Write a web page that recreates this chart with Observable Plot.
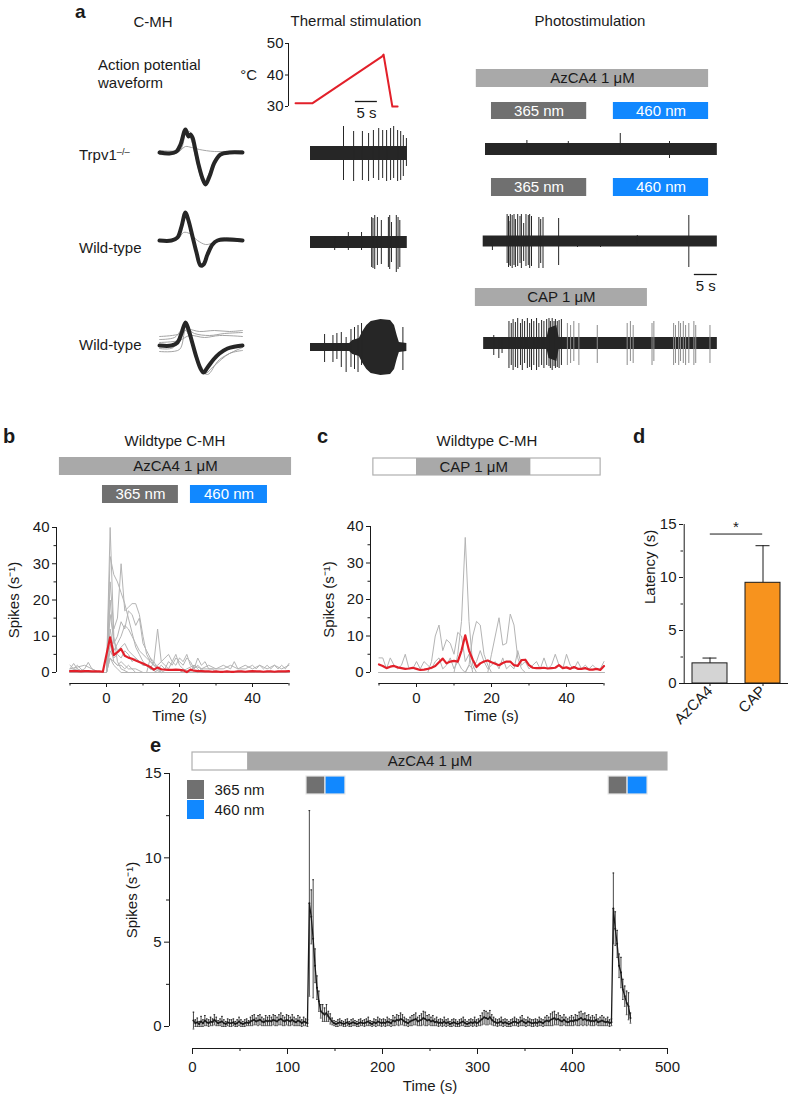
<!DOCTYPE html>
<html><head><meta charset="utf-8">
<script src="https://cdn.jsdelivr.net/npm/d3@7"></script>
<script src="https://cdn.jsdelivr.net/npm/@observablehq/plot@0.6"></script>
<style>
html,body{margin:0;padding:0;overflow:hidden;background:#fff;}
#root{position:relative;width:788px;height:1101px;font-family:'Liberation Sans',Arial,Helvetica,sans-serif;color:#1a1a1a;}
.lbl{position:absolute;white-space:nowrap;line-height:1;}
.lbl sup{font-size:0.62em;position:relative;top:-0.6em;vertical-align:baseline;}
</style></head><body><div id="root"></div>
<script>
// ================= DATA =================
// Panel a: temperature ramp (s, °C)
const tempTime = [-3.4, 0.4, 16.3, 16.6, 18.6, 19.8];
const tempC    = [31, 31, 45.9, 46.5, 30, 30];

// Panel a: action-potential waveforms [sample, amplitude]
const wfTrpv1 = [[0,0],[10,-1],[17,1],[21,8],[26,23],[29,16],[31,18],[33,15],[36,2],[39,-12],[43,-26],[46,-32],[50,-24],[55,-10],[61,-2],[70,0],[83,0]];
const wfTrpv1Gray = [
  [[0,2],[20,2],[26,6],[32,5],[40,3],[55,1],[83,2]],
  [[0,-2],[18,0],[24,18],[30,21],[35,6],[41,-18],[47,-29],[54,-10],[64,-1],[83,-1]],
  [[0,1],[20,1],[27,22],[32,12],[36,-4],[44,-30],[50,-20],[58,-4],[83,1]]
];
const wfWt1 = [[0,0],[12,0],[18,3],[22,14],[26,28],[29,20],[33,4],[37,-12],[41,-25],[44,-24],[48,-14],[53,-4],[58,0],[66,1],[83,0]];
const wfWt1Gray = [
  [[0,0],[18,1],[24,8],[30,7],[38,0],[46,-4],[52,-3],[60,0],[83,0]],
  [[0,1],[16,1],[22,16],[26,26],[30,18],[38,-16],[43,-27],[50,-10],[60,2],[83,1]]
];
const wfWt2 = [[0,0],[12,0],[18,3],[22,12],[26,23],[29,16],[33,2],[37,-12],[41,-23],[44,-27],[48,-22],[54,-14],[60,-8],[68,-3],[76,-1],[83,0]];
const wfWt2Gray = [
  [[0,6],[15,8],[25,18],[35,12],[50,10],[65,12],[83,13]],
  [[0,3],[20,5],[30,10],[45,8],[60,10],[83,9]],
  [[0,9],[18,11],[28,16],[40,14],[55,15],[70,14],[83,15]],
  [[0,-6],[20,-4],[26,15],[35,-5],[45,-28],[55,-20],[70,-8],[83,-5]],
  [[0,-3],[14,-2],[24,20],[31,6],[40,-22],[48,-29],[60,-14],[83,-2]]
];

// Panel a: extracellular traces. envelope: [t, noise amplitude]; spikes: [t, up, down]
const thermEnv1 = [[0,7],[22,7]];
const thermSpikes1 = [[7.5,27,27],[9.8,22,28],[11.8,22,27],[13.2,20,28],[14.3,23,25],[15.5,25,27],[16.4,23,25],[17.3,23,28],[18.2,25,27],[18.9,27,25],[19.8,23,28],[20.5,22,27],[21.1,18,23],[21.8,15,13]];
const thermEnv2 = [[0,6],[22,6]];
const thermSpikes2 = [[5.5,6,8],[8.6,10,8],[11.6,10,8],[13.9,25,25],[14.2,24,26],[14.6,27,27],[15.2,25,23],[16.1,22,22],[17.7,25,25],[18.0,27,27],[18.4,20,20],[19.5,27,30],[19.9,25,27],[20.3,22,25]];
const thermEnv3 = [[0,4],[8.9,4],[9.6,7],[11.1,9],[11.9,16],[12.8,22],[13.8,26],[16,28],[18.2,27],[19.1,22],[19.7,12],[20.2,5],[21.9,4]];
const thermSpikes3 = [[3.2,13,15],[5.1,12,15],[6.0,14,12],[7.0,15,20],[8.1,10,25],[9.2,18,20],[10.0,20,22],[10.8,22,25],[11.6,24,18],[21.0,20,23]];

const photoEnv1 = [[0,6],[50.4,6]];
const photoSpikes1 = [[9,9,3],[18,8,4],[29.3,16,3],[40,8,9]];
const photoEnv2 = [[-0.5,5.5],[50.4,5.5]];
const photoSpikes2 = [[1.5,4,9],[4.7,27,22],[5.0,25,26],[5.1,20,24],[5.4,27,25],[5.8,26,27],[6.2,27,24],[6.5,22,26],[7.0,27,25],[7.5,25,22],[7.8,27,27],[8.3,18,20],[8.8,27,25],[9.3,26,24],[9.6,27,27],[10.0,25,25],[11.6,24,27],[12.0,22,22],[12.5,24,27],[15.9,23,24],[20,4,6],[25,3,6],[33,6,3],[44.2,26,26]];
const photoEnv3 = [[-0.4,6],[13.4,6],[13.8,15],[15.5,18],[16,6],[50.4,6]];
const photoSpikes3 = [[1.8,8,12],[2.9,5,15],[3.6,6,10],[5.1,22,25],[5.6,20,22],[6.0,24,27],[6.5,21,24],[7.0,25,25],[7.6,20,22],[8.0,24,27],[8.5,22,20],[9.1,25,25],[9.6,20,24],[10.0,24,27],[10.5,22,22],[11.1,25,27],[11.6,20,24],[12.2,23,22],[12.7,22,25],[13.3,24,22],[13.8,25,23],[14.1,22,25],[14.5,25,27],[14.9,22,23],[15.2,24,25],[15.6,22,24],[16.0,23,25],[16.5,24,22]];
const photoSpikes3Gray = [[17.8,20,22],[18.5,18,20],[19.2,22,18],[20.3,20,22],[24.3,18,20],[30.8,20,22],[31.5,22,18],[32.1,18,20],[36.2,20,22],[36.6,22,18],[40.9,20,22],[41.3,18,20],[42.0,22,22],[42.4,20,18],[43.0,22,20],[43.5,18,22],[44.2,20,20],[45.3,22,22],[45.7,18,20],[48.8,18,20]];

// Panel a: application bars (s)
const photoDrug = [{start:-2.0, end:48.5, label:"AzCA4 1 μM"}];
const photoStim = [{start:1.3, end:22.0, label:"365 nm"},{start:27.8, end:48.5, label:"460 nm"}];
const photoCap  = [{start:-2.2, end:35.2, label:"CAP 1 μM"}];
const thermScale = [{start:10.2, end:15.2, label:"5 s"}];
const photoScale = [{start:45.4, end:50.4, label:"5 s"}];

// Panel b
const bTime = d3.range(-10, 51);
const bMean = [0.4,0.4,0.4,0.3,0.4,0.4,0.3,0.3,0.3,0.2,
  5.0,9.7,4.8,5.6,6.5,4.6,4.1,3.8,3.3,2.9,
  2.5,2.0,1.5,0.8,1.4,0.9,0.8,0.7,0.7,0.8,
  0.7,0.6,0.1,0.8,0.5,0.4,0.4,0.3,0.3,0.2,
  0.3,0.2,0.2,0.3,0.2,0.2,0.3,0.3,0.2,0.3,
  0.4,0.3,0.3,0.2,0.3,0.3,0.2,0.3,0.3,0.3,
  0.4];
const bCells = [
  [[-10,0.5],[-8,1],[-6,0],[-1,0],[0,0],[1,40],[2,10],[3,3],[4,1],[6,0],[50,0]],
  [[-10,0],[0,0],[1,32],[2,27],[3,25],[4,22],[5,19],[6,15],[7,11],[8,7],[9,5],[10,3],[11,2],[12,1],[14,0],[50,0]],
  [[-10,1],[-9,2.5],[-8,1],[-7,0.5],[-6,1],[-5,2.8],[-4,1],[-2,0],[0,0],[1,25],[2,12],[3,15],[4,30],[5,17],[6,18],[7,19],[8,19],[9,16],[10,10],[11,5],[12,3],[13,2],[14,1],[16,0],[50,0]],
  [[-10,0],[0,0],[1,20],[2,8],[3,10],[4,14],[5,12],[6,17],[7,16],[8,13],[9,15],[10,8],[11,6],[12,4],[13,3],[14,12],[15,3],[16,2],[17,1],[18,3],[19,5],[20,2],[21,1],[23,0],[50,0]],
  [[-10,0],[0,0],[1,12],[2,6],[3,8],[4,10],[5,13],[6,12],[7,10],[8,8],[9,6],[10,5],[11,4],[12,3],[13,2],[14,2],[15,3],[16,4],[17,5],[18,3],[19,2],[20,4],[21,3],[22,5],[23,2],[24,1],[25,2],[26,1],[27,0],[50,0]],
  [[-10,2],[-9,1],[-8,2],[-7,1],[-6,0],[0,0],[1,6],[2,4],[3,5],[4,4],[5,6],[6,5],[7,3],[8,4],[9,3],[10,2],[11,2],[12,1],[13,3],[14,1],[15,2],[16,1],[17,3],[18,2],[19,4],[20,3],[21,2],[22,4],[23,3],[24,1],[25,4],[26,2],[27,3],[28,1],[29,1],[30,0],[50,0]],
  [[-10,1],[-8,1.5],[-6,2],[-4,1],[-2,0],[0,0],[1,4],[2,3],[3,2],[4,3],[5,2],[6,1],[8,1],[10,0],[20,0],[22,1],[24,2],[26,1],[28,1],[30,1],[32,2],[34,1],[35,3],[36,1],[38,1],[40,2],[41,1],[42,2],[43,1],[44,2],[45,1],[46,2],[47,1],[48,2],[49,1],[50,2.5]],
  [[-10,0],[0,0],[1,8],[2,3],[3,2],[4,2],[5,1],[6,2],[7,1],[8,0],[25,0],[26,1],[28,2],[30,1],[32,1],[34,2],[36,1],[38,2],[40,1],[42,2],[44,1],[46,2],[48,1],[50,2]],
  [[-10,0],[0,0],[1,16],[2,9],[3,6],[4,7],[5,8],[6,6],[7,5],[8,4],[9,3],[10,2],[11,2],[12,1],[13,1],[15,0],[50,0]],
  [[-10,0],[0,0],[1,4],[2,2],[3,1],[4,0],[11,0],[12,4],[13,2],[14,1],[15,0],[23,0],[24,2],[25,1],[26,0],[50,0]]
];
const bDrug = [{start:-12.9, end:50.7, label:"AzCA4 1 μM"}];
const bStim = [{start:-1.1, end:19.7, label:"365 nm"},{start:23.0, end:44.1, label:"460 nm"}];

// Panel c
const cTime = d3.range(-10, 51);
const cMean = [2.2,1.8,1.2,1.6,1.8,1.4,1.2,1.0,1.1,1.3,
  1.0,0.7,0.8,1.0,1.3,1.8,2.8,3.8,2.5,3.0,
  3.2,3.0,6.0,10.2,6.0,3.5,1.5,2.5,3.0,3.3,
  2.8,2.4,2.0,2.6,3.0,3.0,2.0,1.8,3.4,3.5,
  2.0,1.3,1.2,1.2,1.3,1.1,1.2,1.3,2.0,1.2,
  1.4,1.0,1.5,1.0,1.0,1.2,0.8,0.8,1.0,0.7,
  1.8];
const cCells = [
  [[-10,0],[50,0]],
  [[-10,0],[10,0],[11,5],[12,14],[13,37],[14,14],[15,2],[16,0],[50,0]],
  [[-10,0],[3,0],[4,3],[5,10],[6,13],[7,6],[8,9],[9,8],[10,5],[11,11],[12,10],[13,3],[14,5],[15,0],[50,0]],
  [[-10,0],[13,0],[14,2],[15,10],[16,14],[17,13],[18,5],[19,2],[20,0],[50,0]],
  [[-10,0],[19,0],[20,5],[21,10],[22,15],[23,7.5],[24,8],[25,16],[26,13],[27,4],[28,1],[29,0],[50,0]],
  [[-10,4],[-9,4],[-8,1],[-7,4],[-6,2],[-5,1],[-4,2],[-3,5],[-2,1],[-1,1],[0,3],[1,1],[2,3],[3,2],[4,1],[5,3],[6,4],[7,1],[8,2],[9,4],[10,1],[11,3],[12,1],[13,0],[14,2],[15,1],[16,3],[17,6],[18,3],[19,1],[20,2],[21,3],[22,1],[23,4],[24,1],[25,2],[26,1],[27,6],[28,2],[29,3],[30,1],[31,2],[32,3],[33,1],[34,4],[35,1],[36,2],[37,5],[38,2],[39,1],[40,5],[41,2],[42,1],[43,3],[44,1],[45,2],[46,1],[47,2],[48,1],[49,1],[50,3]]
];
const cWash = [{start:-11.5, end:49.1}];
const cDrug = [{start:0, end:30.5, label:"CAP 1 μM"}];

// Panel d
const dGroups = ["AzCA4", "CAP"];
const dMean = [1.9, 9.5];
const dErr  = [0.5, 3.5];
const dSig  = [{from:"AzCA4", to:"CAP", y:14.1, label:"*"}];

// Panel e (2-s bins)
const eTime = d3.range(1, 462, 2);
const eMean = [
  0.35,0.2,0.25,0.15,0.3,0.2,0.35,0.25,0.2,0.3,
  0.25,0.4,0.3,0.2,0.25,0.3,0.2,0.15,0.25,0.2,
  0.2,0.25,0.15,0.2,0.3,0.2,0.15,0.2,0.25,0.2,
  0.3,0.35,0.4,0.3,0.35,0.4,0.3,0.25,0.35,0.3,
  0.35,0.3,0.4,0.35,0.3,0.4,0.45,0.35,0.3,0.4,
  0.35,0.3,0.4,0.3,0.25,0.35,0.3,0.2,0.3,0.25,
  0.2,7.3,6.5,5.2,3.6,2.3,1.5,0.9,0.8,0.7,
  0.8,0.6,0.45,0.3,0.2,0.15,0.2,0.25,0.2,0.15,
  0.2,0.25,0.15,0.2,0.25,0.2,0.15,0.2,0.25,0.2,
  0.2,0.25,0.3,0.2,0.15,0.25,0.2,0.3,0.25,0.2,
  0.25,0.2,0.3,0.25,0.2,0.35,0.3,0.4,0.35,0.45,
  0.4,0.3,0.25,0.2,0.3,0.35,0.4,0.45,0.3,0.35,
  0.4,0.5,0.45,0.35,0.4,0.3,0.35,0.25,0.3,0.2,
  0.25,0.2,0.3,0.2,0.25,0.15,0.2,0.25,0.2,0.15,
  0.2,0.25,0.3,0.2,0.15,0.2,0.25,0.2,0.3,0.2,
  0.25,0.35,0.45,0.55,0.5,0.45,0.55,0.4,0.3,0.25,
  0.2,0.25,0.3,0.2,0.25,0.2,0.15,0.2,0.25,0.3,
  0.25,0.2,0.3,0.35,0.25,0.2,0.3,0.25,0.2,0.2,
  0.25,0.2,0.3,0.25,0.2,0.3,0.35,0.3,0.4,0.45,
  0.5,0.4,0.45,0.35,0.3,0.4,0.3,0.25,0.3,0.35,
  0.3,0.4,0.35,0.45,0.5,0.4,0.45,0.35,0.4,0.3,
  0.35,0.3,0.4,0.25,0.3,0.35,0.3,0.25,0.3,0.2,
  0.25,7.0,5.8,4.9,3.6,3.2,2.2,1.8,1.4,1.2,
  0.5];
const eErr = [
  0.5,0.2,0.25,0.15,0.3,0.2,0.3,0.2,0.2,0.25,
  0.2,0.3,0.25,0.15,0.2,0.3,0.2,0.15,0.2,0.2,
  0.2,0.2,0.15,0.2,0.25,0.2,0.15,0.2,0.2,0.15,
  0.25,0.3,0.3,0.2,0.3,0.3,0.25,0.2,0.3,0.25,
  0.3,0.25,0.3,0.3,0.25,0.3,0.35,0.3,0.25,0.3,
  0.3,0.25,0.3,0.25,0.2,0.3,0.25,0.2,0.25,0.2,
  0.2,5.5,1.6,3.5,1.0,0.7,0.6,0.4,0.5,0.4,
  0.5,0.3,0.3,0.2,0.15,0.15,0.2,0.2,0.15,0.15,
  0.2,0.2,0.15,0.2,0.2,0.15,0.15,0.2,0.2,0.15,
  0.2,0.2,0.25,0.15,0.15,0.2,0.2,0.25,0.2,0.2,
  0.2,0.2,0.25,0.2,0.2,0.3,0.25,0.3,0.3,0.35,
  0.3,0.25,0.2,0.2,0.25,0.3,0.3,0.35,0.25,0.3,
  0.35,0.4,0.4,0.3,0.3,0.25,0.3,0.2,0.25,0.2,
  0.2,0.2,0.25,0.2,0.2,0.15,0.2,0.2,0.2,0.15,
  0.2,0.2,0.25,0.2,0.15,0.2,0.2,0.2,0.25,0.2,
  0.2,0.3,0.35,0.4,0.4,0.35,0.4,0.3,0.25,0.2,
  0.2,0.2,0.25,0.2,0.2,0.2,0.15,0.2,0.2,0.25,
  0.2,0.2,0.25,0.3,0.2,0.2,0.25,0.2,0.2,0.2,
  0.2,0.2,0.25,0.2,0.2,0.25,0.3,0.25,0.35,0.4,
  0.4,0.3,0.35,0.3,0.25,0.3,0.25,0.2,0.25,0.3,
  0.25,0.3,0.3,0.4,0.4,0.35,0.35,0.3,0.3,0.25,
  0.3,0.25,0.3,0.2,0.25,0.3,0.25,0.2,0.25,0.2,
  0.2,2.1,1.0,0.8,0.7,0.9,0.6,0.6,0.7,0.8,
  0.3];
const eWash = [{start:0, end:500, label:"AzCA4 1 μM"}];
const eDrug = [{start:58, end:500}];
const eStim = [{start:120,end:140,label:"365 nm"},{start:140,end:161,label:"460 nm"},{start:438,end:458,label:"365 nm"},{start:458,end:479,label:"460 nm"}];
const eLegend = ["365 nm", "460 nm"];

// ================= STYLE =================
const W = 788, H = 1101;
const INK = "#1a1a1a", TRACE = "#262626", RED = "#e2202a", CELL = "#b4b4b4";
const DRUG = "#a9a9a9";
const stimColor = {"365 nm": "#707070", "460 nm": "#1188ff"};
const stimText = {"365 nm": "#ffffff", "460 nm": "#ffffff"};
const dColor = {"AzCA4": "#d4d4d4", "CAP": "#f7931e"};
const FONT = "15px 'Liberation Sans', Arial, Helvetica, sans-serif";
const root = document.getElementById("root");

function P(o) {
  const {x = {}, y = {}, ...rest} = o;
  const svg = Plot.plot({
    width: W, height: H,
    marginTop: 0, marginRight: 0, marginBottom: 0, marginLeft: 0,
    x: {axis: null, ...x}, y: {axis: null, ...y},
    color: {type: "identity"},
    style: {position: "absolute", left: "0px", top: "0px", background: "none", overflow: "visible", maxWidth: "none", font: FONT, color: INK},
    ...rest
  });
  root.appendChild(svg);
}
function label(html, x, baseline, {size = 15, weight = "normal", anchor = "start"} = {}) {
  const d = document.createElement("div");
  d.className = "lbl";
  d.innerHTML = html;
  d.style.left = x + "px";
  d.style.top = (baseline - 0.8465 * size) + "px";
  d.style.fontSize = size + "px";
  d.style.fontWeight = weight;
  if (anchor === "middle") d.style.transform = "translateX(-50%)";
  if (anchor === "end") d.style.transform = "translateX(-100%)";
  root.appendChild(d);
}
const mid = d => (d.start + d.end) / 2;

// ================= PANEL a =================
const thermX = {domain: [0, 22], range: [310, 406.8]};
const photoX = {domain: [0, 50], range: [485, 715]};

// temperature
P({x: thermX, y: {domain: [30, 50], range: [106, 43]},
  marginLeft: 288, marginTop: 43, marginBottom: H - 106,
  marks: [
    Plot.ruleX([thermX.domain[0]], {y1: 30, y2: 50, dx: -22, stroke: INK}),
    Plot.axisY({ticks: [30, 40, 50], tickSize: 3, tickPadding: 2, label: null}),
    Plot.line(tempTime, {x: d => d, y: (d, i) => tempC[i], stroke: RED, strokeWidth: 2})
  ]});
// thermal scale bar
P({x: thermX, marginTop: 100, marginBottom: H - 102,
  marks: [
    Plot.ruleY(thermScale, {x1: "start", x2: "end", y: null, stroke: INK, strokeWidth: 1.3}),
    Plot.text(thermScale, {x: mid, text: "label", dy: 12})
  ]});

function waveform(black, grays, center) {
  P({x: {domain: [0, 83], range: [159, 242]}, y: {domain: [-35, 35], range: [center + 35, center - 35]},
    marks: [
      ...grays.map(g => Plot.line(g, {x: d => d[0], y: d => d[1], stroke: "#9a9a9a", strokeWidth: 0.9, curve: "catmull-rom"})),
      Plot.line(black, {x: d => d[0], y: d => d[1], stroke: TRACE, strokeWidth: 4, curve: "catmull-rom"})
    ]});
}
waveform(wfTrpv1, wfTrpv1Gray, 152);
waveform(wfWt1, wfWt1Gray, 240);
waveform(wfWt2, wfWt2Gray, 345);

function trace(xs, center, env, spikes, graySpikes = []) {
  P({x: xs, y: {domain: [-35, 35], range: [center + 35, center - 35]},
    marks: [
      Plot.areaY(env, {x: d => d[0], y1: d => -d[1], y2: d => d[1], fill: TRACE}),
      Plot.ruleX(graySpikes, {x: d => d[0], y1: d => -d[2], y2: d => d[1], stroke: "#8c8c8c", strokeWidth: 1}),
      Plot.ruleX(spikes, {x: d => d[0], y1: d => -d[2], y2: d => d[1], stroke: TRACE, strokeWidth: 1})
    ]});
}
trace(thermX, 153, thermEnv1, thermSpikes1);
trace(thermX, 242, thermEnv2, thermSpikes2);
trace(thermX, 347, thermEnv3, thermSpikes3);
trace(photoX, 149, photoEnv1, photoSpikes1);
trace(photoX, 241, photoEnv2, photoSpikes2);
trace(photoX, 343, photoEnv3, photoSpikes3, photoSpikes3Gray);

function barRow(xs, top, bottom, items, {fill, text, stroke = "none", label = true} = {}) {
  const marks = [Plot.barX(items, {x1: "start", x2: "end", fill, stroke, strokeWidth: 1.2})];
  if (label) marks.push(Plot.text(items, {x: mid, text: "label", fill: text}));
  P({x: xs, marginTop: top, marginBottom: H - bottom, marks});
}
barRow(photoX, 69, 87, photoDrug, {fill: DRUG, text: INK});
barRow(photoX, 102, 119, photoStim, {fill: d => stimColor[d.label], text: d => stimText[d.label]});
barRow(photoX, 178, 196, photoStim, {fill: d => stimColor[d.label], text: d => stimText[d.label]});
barRow(photoX, 288, 306, photoCap, {fill: DRUG, text: INK});
P({x: photoX, marginTop: 273, marginBottom: H - 275,
  marks: [
    Plot.ruleY(photoScale, {x1: "start", x2: "end", y: null, stroke: INK, strokeWidth: 1.3}),
    Plot.text(photoScale, {x: mid, text: "label", dy: 12})
  ]});

label("a", 75, 18, {size: 19, weight: "bold"});
label("C-MH", 153, 27, {anchor: "middle"});
label("Thermal stimulation", 356, 26, {anchor: "middle"});
label("Photostimulation", 590, 26, {anchor: "middle"});
label("Action potential", 98, 70);
label("waveform", 98, 88);
label("°C", 257, 80, {anchor: "end"});
label("Trpv1<sup>–/–</sup>", 79, 160);
label("Wild-type", 79, 253);
label("Wild-type", 79, 350);

// ================= PANEL b / c =================
function spikePanel(xs, ys, axisX, frameLeft, time, mean, cells, titleDx) {
  const x0 = xs.domain[0], x1 = xs.domain[1];
  const ymid = (ys.domain[0] + ys.domain[1]) / 2;
  P({x: xs, y: ys, marginLeft: frameLeft, marginTop: ys.range[1], marginBottom: H - axisX, marginRight: W - xs.range[1],
    marks: [
      Plot.ruleX([x0], {y1: ys.domain[0], y2: ys.domain[1], dx: frameLeft - xs.range[0], stroke: INK}),
      Plot.ruleY([ys.domain[0]], {x1: x0, x2: x1, dy: axisX - ys.range[0], stroke: INK}),
      Plot.axisY({ticks: [0, 10, 20, 30, 40], tickSize: 4, tickPadding: 3, label: null}),
      Plot.axisY({ticks: [5, 15, 25, 35], tickSize: 2.5, tickFormat: () => "", label: null}),
      Plot.axisX({ticks: [0, 20, 40], tickSize: 4, tickPadding: 5, label: null}),
      Plot.axisX({ticks: [-10, 10, 30, 50], tickSize: 2.5, tickFormat: () => "", label: null}),
      ...cells.map(g => Plot.line(g, {x: d => d[0], y: d => d[1], stroke: CELL, strokeWidth: 1})),
      Plot.line(mean, {x: (d, i) => time[i], y: d => d, stroke: RED, strokeWidth: 2.2}),
      Plot.text(["Spikes (s⁻¹)"], {x: x0, y: ymid, text: d => d, rotate: -90, dx: titleDx}),
      Plot.text(["Time (s)"], {x: (x0 + x1) / 2, text: d => d, frameAnchor: "bottom", dy: 37})
    ]});
}
const bX = {domain: [-10, 50], range: [69.5, 288.5]};
const bY = {domain: [0, 40], range: [672, 527]};
spikePanel(bX, bY, 683, 56, bTime, bMean, bCells, -56);
barRow(bX, 457, 475, bDrug, {fill: DRUG, text: INK});
barRow(bX, 485, 503, bStim, {fill: d => stimColor[d.label], text: d => stimText[d.label]});

const cX = {domain: [-10, 50], range: [378.5, 603.5]};
const cY = {domain: [0, 40], range: [672, 526]};
spikePanel(cX, cY, 683, 370, cTime, cMean, cCells, -50);
barRow(cX, 458, 475, cWash, {fill: "white", stroke: "#b0b0b0", label: false});
barRow(cX, 458, 475, cDrug, {fill: DRUG, text: INK});

label("b", 3, 443, {size: 20, weight: "bold"});
label("Wildtype C-MH", 175, 446, {anchor: "middle"});
label("c", 317, 443, {size: 20, weight: "bold"});
label("Wildtype C-MH", 487, 446, {anchor: "middle"});

// ================= PANEL d =================
const dData = dGroups.map((g, i) => ({group: g, mean: dMean[i], err: dErr[i]}));
P({x: {type: "band", domain: dGroups, range: [683, 788], paddingInner: 0.34, paddingOuter: 0.15},
  y: {domain: [0, 15], range: [683, 524]},
  marginLeft: 683, marginTop: 524, marginBottom: H - 683,
  marks: [
    Plot.ruleX(dData, {x: "group", y1: "mean", y2: d => d.mean + d.err, stroke: INK}),
    Plot.tickY(dData, {x: "group", y: d => d.mean + d.err, insetLeft: 10.5, insetRight: 10.5, stroke: INK}),
    Plot.barY(dData, {x: "group", y: "mean", fill: d => dColor[d.group], stroke: INK, strokeWidth: 1}),
    Plot.ruleY(dSig, {y: "y", x1: "from", x2: "to", insetLeft: 17.8, insetRight: 17.8, stroke: INK}),
    Plot.text(dSig, {y: "y", text: "label", dy: -7, fontSize: 15}),
    Plot.ruleY([0], {stroke: INK}),
    Plot.ruleX([dGroups[0]], {y1: 0, y2: 15, stroke: INK, dx: -25.8}),
    Plot.axisY({ticks: [0, 5, 10, 15], tickSize: 4, tickPadding: 3, label: null}),
    Plot.axisY({ticks: [2.5, 7.5, 12.5], tickSize: 2.5, tickFormat: () => "", label: null}),
    Plot.axisX({tickRotate: -45, tickSize: 3, tickPadding: 2, label: null}),
    Plot.text(["Latency (s)"], {frameAnchor: "left", text: d => d, rotate: -90, dx: -33})
  ]});
label("d", 633, 443, {size: 20, weight: "bold"});

// ================= PANEL e =================
const eX = {domain: [0, 500], range: [192, 667]};
const eY = {domain: [0, 15], range: [1026, 773]};
const eData = eTime.map((t, i) => ({t, mean: eMean[i], lo: eMean[i] - eErr[i], hi: eMean[i] + eErr[i]}));
P({x: eX, y: eY, marginLeft: 169, marginTop: 773, marginBottom: H - 1048, marginRight: W - 667,
  marks: [
    Plot.ruleX([eX.domain[0]], {y1: eY.domain[0], y2: eY.domain[1], dx: 169 - 192, stroke: INK}),
    Plot.ruleY([eY.domain[0]], {x1: eX.domain[0], x2: eX.domain[1], dy: 22, stroke: INK}),
    Plot.axisY({ticks: [0, 5, 10, 15], tickSize: 5, tickPadding: 3, label: null}),
    Plot.axisY({ticks: [2.5, 7.5, 12.5], tickSize: 3, tickFormat: () => "", label: null}),
    Plot.axisX({ticks: [0, 100, 200, 300, 400, 500], tickSize: 6, tickPadding: 7, label: null}),
    Plot.axisX({ticks: [50, 150, 250, 350, 450], tickSize: 3, tickFormat: () => "", label: null}),
    Plot.ruleX(eData, {x: "t", y1: "lo", y2: "hi", stroke: INK, strokeWidth: 0.8}),
    Plot.link(eData, {x1: d => d.t - 0.9, x2: d => d.t + 0.9, y1: "hi", y2: "hi", stroke: INK, strokeWidth: 0.8}),
    Plot.link(eData, {x1: d => d.t - 0.9, x2: d => d.t + 0.9, y1: "lo", y2: "lo", stroke: INK, strokeWidth: 0.8}),
    Plot.line(eData, {x: "t", y: "mean", stroke: INK, strokeWidth: 1.3}),
    Plot.dot(eData, {x: "t", y: "mean", r: 1, fill: INK}),
    Plot.text(["Spikes (s⁻¹)"], {x: eX.domain[0], y: (eY.domain[0] + eY.domain[1]) / 2, text: d => d, rotate: -90, dx: -60}),
    Plot.text(["Time (s)"], {x: (eX.domain[0] + eX.domain[1]) / 2, text: d => d, frameAnchor: "bottom", dy: 42})
  ]});
barRow(eX, 752, 770, eWash, {fill: "white", stroke: "#b0b0b0", label: false});
barRow(eX, 752, 770, eDrug, {fill: DRUG, label: false});
P({x: eX, marginTop: 752, marginBottom: H - 770,
  marks: [Plot.text(eWash, {x: mid, text: "label", fill: INK})]});
barRow(eX, 776, 794, eStim, {fill: d => stimColor[d.label], stroke: "#e6e6e6", label: false});
P({marginLeft: 187, marginRight: W - 204, marginTop: 779, marginBottom: H - 820,
  y: {type: "band", domain: eLegend, padding: 0.04},
  marks: [
    Plot.cell(eLegend, {y: d => d, fill: d => stimColor[d]}),
    Plot.text(eLegend, {y: d => d, text: d => d, frameAnchor: "right", dx: 10, textAnchor: "start"})
  ]});
label("e", 150, 752, {size: 20, weight: "bold"});
</script></body></html>
